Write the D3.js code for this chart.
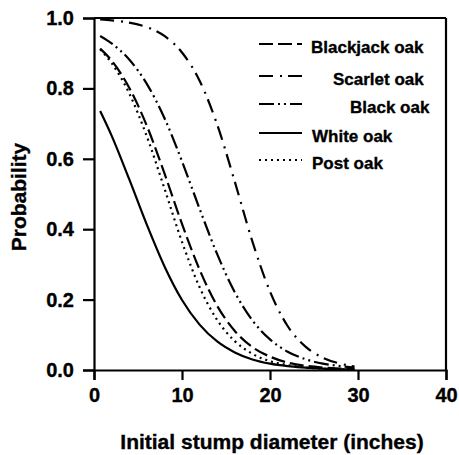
<!DOCTYPE html>
<html>
<head>
<meta charset="utf-8">
<script src="https://cdn.jsdelivr.net/npm/d3@7/dist/d3.min.js"></script>
<style>
  html, body { margin: 0; padding: 0; background: #fff; }
  svg text { font-family: "Liberation Sans", Arial, Helvetica, sans-serif; font-weight: bold; fill: #000; stroke: #000; stroke-width: 0.35px; }
</style>
</head>
<body>
<svg id="chart" width="459" height="455"></svg>
<script>
// ---- Data ----
const diameters = [0.7, 2, 4, 6, 8, 10, 12, 14, 16, 18, 20, 22, 24, 26, 28, 29.6];
const blackjackOak = [0.913, 0.879, 0.802, 0.694, 0.559, 0.415, 0.285, 0.182, 0.111, 0.065, 0.038, 0.021, 0.012, 0.007, 0.004, 0.002];
const scarletOak   = [0.996, 0.993, 0.987, 0.974, 0.949, 0.902, 0.822, 0.697, 0.535, 0.365, 0.223, 0.125, 0.067, 0.035, 0.018, 0.010];
const blackOak     = [0.949, 0.928, 0.882, 0.813, 0.716, 0.593, 0.458, 0.329, 0.221, 0.141, 0.087, 0.052, 0.031, 0.018, 0.011, 0.007];
const whiteOak     = [0.736, 0.666, 0.542, 0.413, 0.295, 0.199, 0.129, 0.081, 0.050, 0.030, 0.018, 0.011, 0.007, 0.004, 0.002, 0.002];
const postOak      = [0.911, 0.872, 0.786, 0.664, 0.516, 0.364, 0.235, 0.142, 0.082, 0.046, 0.025, 0.014, 0.007, 0.004, 0.002, 0.001];
const seriesNames  = ["Blackjack oak", "Scarlet oak", "Black oak", "White oak", "Post oak"];
const seriesValues = [blackjackOak, scarletOak, blackOak, whiteOak, postOak];
const xTicks = [0, 10, 20, 30, 40];
const yTicks = [0.0, 0.2, 0.4, 0.6, 0.8, 1.0];
const xTitle = "Initial stump diameter (inches)";
const yTitle = "Probability";

// ---- Styles / layout ----
const dashes = ["14,5", "14,7,2,6", "15,4,2,4,2,4", null, "2,4"];
const legendTextX = [311, 333, 350, 312, 312];
const legendRowY = [44, 76, 104, 133, 160];

const svg = d3.select("#chart");
const x = d3.scaleLinear().domain([0, 40]).range([94, 446]);
const y = d3.scaleLinear().domain([0, 1]).range([370, 18]);

// frame (top and right)
svg.append("line").attr("x1", x(0)).attr("x2", x(40)).attr("y1", y(1)).attr("y2", y(1))
  .attr("stroke", "#000").attr("stroke-width", 2.2);
svg.append("line").attr("x1", x(40)).attr("x2", x(40)).attr("y1", y(0)).attr("y2", y(1))
  .attr("stroke", "#000").attr("stroke-width", 2.2);

// axes
const xAxis = d3.axisBottom(x).tickValues(xTicks).tickFormat(d3.format("d")).tickSizeOuter(0).tickSize(10).tickPadding(8);
const yAxis = d3.axisLeft(y).tickValues(yTicks).tickFormat(d3.format(".1f")).tickSizeOuter(0).tickSize(11).tickPadding(9);

const gx = svg.append("g").attr("transform", `translate(0,${y(0)})`).call(xAxis);
const gy = svg.append("g").attr("transform", `translate(${x(0)},0)`).call(yAxis);
[gx, gy].forEach(g => {
  g.select(".domain").attr("stroke", "#000").attr("stroke-width", 2.2);
  g.selectAll(".tick line").attr("stroke", "#000").attr("stroke-width", 2.2);
  g.selectAll(".tick text").attr("font-size", 20).attr("font-family", "Liberation Sans, Arial, sans-serif")
    .attr("font-weight", "bold").attr("fill", "#000");
});

// titles
svg.append("text").attr("x", (x(0) + x(40)) / 2 + 2).attr("y", 449)
  .attr("text-anchor", "middle").attr("font-size", 21).text(xTitle);
svg.append("text").attr("transform", `translate(26,${(y(0) + y(1)) / 2 + 3}) rotate(-90)`)
  .attr("text-anchor", "middle").attr("font-size", 21).text(yTitle);

// curves
const line = d3.line().x((d, i) => x(diameters[i])).y(d => y(d)).curve(d3.curveMonotoneX);
const plot = svg.append("g");
seriesValues.forEach((vals, k) => {
  plot.append("path").datum(vals).attr("d", line)
    .attr("fill", "none").attr("stroke", "#000").attr("stroke-width", 2.2)
    .attr("stroke-dasharray", dashes[k]);
});

// legend
const leg = svg.append("g");
seriesNames.forEach((name, k) => {
  leg.append("line").attr("x1", 259).attr("x2", 302)
    .attr("y1", legendRowY[k]).attr("y2", legendRowY[k])
    .attr("stroke", "#000").attr("stroke-width", 2.2).attr("stroke-dasharray", dashes[k]);
  leg.append("text").attr("x", legendTextX[k]).attr("y", legendRowY[k] + 8.5)
    .attr("font-size", 17).text(name);
});
</script>
</body>
</html>
